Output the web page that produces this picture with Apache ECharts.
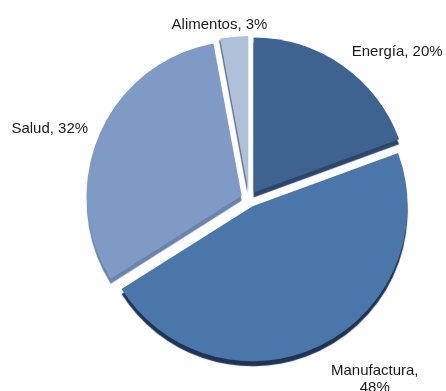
<!DOCTYPE html>
<html>
<head>
<meta charset="utf-8">
<style>
  html, body { margin: 0; padding: 0; background: #fff; }
  #chart { width: 446px; height: 391px; }
</style>
<script src="https://cdn.jsdelivr.net/npm/echarts@6/dist/echarts.min.js"></script>
</head>
<body>
<div id="chart"></div>
<script>
  // Sectors, clockwise from 12 o'clock (values as printed, they add up to 103).
  const sectors = ['Energía', 'Manufactura', 'Salud', 'Alimentos'];
  const shares = [20, 48, 32, 3];
  const fills = ['#3f6391', '#4a76a9', '#7f9bc5', '#afc0d9'];
  const sides = ['#2c4669', '#1f3453', '#6a83aa', '#5f6f88'];

  let data = sectors.map(function (name, i) {
    let item = {
      name: name,
      value: shares[i],
      selected: true,
      itemStyle: {
        color: fills[i],
        shadowColor: sides[i],
        shadowOffsetY: 5,
        shadowOffsetX: 0,
        shadowBlur: 1
      }
    };
    if (name == 'Manufactura') {
      item.label = { formatter: '{m|{b},}\n{m|{c}%}' };
    }
    if (name == 'Alimentos') {
      item.itemStyle.shadowOffsetX = -1;
      item.itemStyle.shadowOffsetY = 2;
    }
    return item;
  });

  // Small nudges so the labels sit where the original put them.
  const nudges = [[-6, 1], [-3, 18], [10, 2], [40, 6]];

  let option = {
    animation: false,
    series: [{
      type: 'pie',
      center: [249, 199],
      radius: 155,
      startAngle: 90,
      clockwise: true,
      selectedMode: 'multiple',
      selectedOffset: 8,
      avoidLabelOverlap: false,
      label: {
        show: true,
        position: 'outside',
        formatter: '{b}, {c}%',
        color: '#1a1a1a',
        fontFamily: 'Liberation Sans',
        fontSize: 15,
        lineHeight: 17,
        rich: {
          m: { align: 'center', fontSize: 15, lineHeight: 17, color: '#1a1a1a', fontFamily: 'Liberation Sans' }
        }
      },
      labelLine: { show: false, length: 18, length2: 0 },
      labelLayout: function (p) {
        return { dx: nudges[p.dataIndex][0], dy: nudges[p.dataIndex][1] };
      },
      itemStyle: { borderWidth: 0 },
      emphasis: { disabled: true },
      data: data
    }]
  };

  echarts.init(document.getElementById('chart')).setOption(option);
</script>
</body>
</html>
